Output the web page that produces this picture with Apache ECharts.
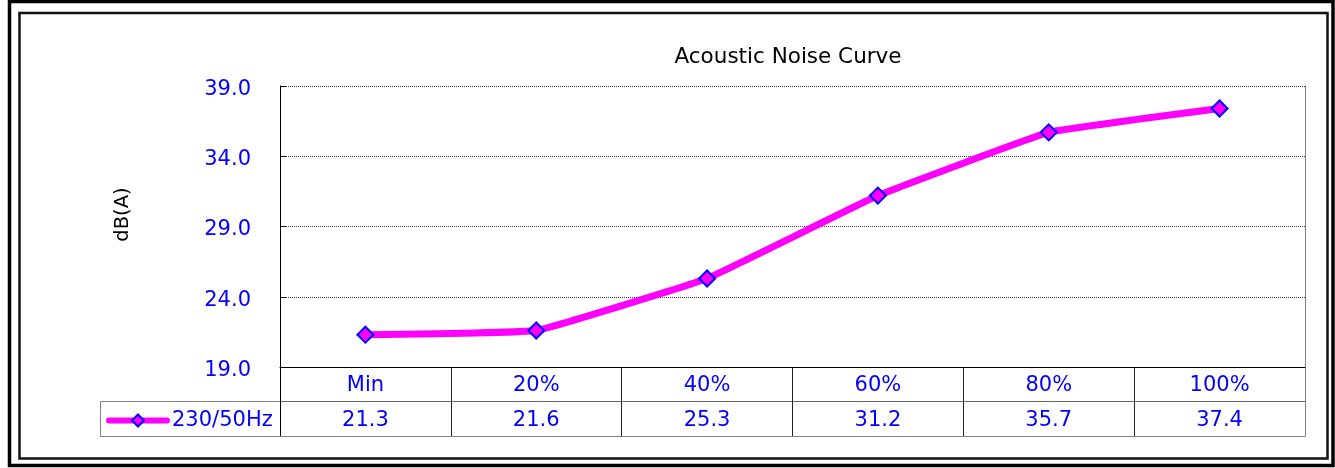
<!DOCTYPE html>
<html>
<head>
<meta charset="utf-8">
<script src="https://cdn.jsdelivr.net/npm/echarts@6/dist/echarts.min.js"></script>
<style>
  html, body { margin: 0; padding: 0; background: #fff; }
  #noise_chart { width: 1335px; height: 468px; }
</style>
</head>
<body>
<div id="noise_chart"></div>
<script>
// data
var categories = ['Min', '20%', '40%', '60%', '80%', '100%'];
var noiseValues = [21.3, 21.6, 25.3, 31.2, 35.7, 37.4];
var seriesName = '230/50Hz';
var yTicks = [19, 24, 29, 34, 39];
var tableRows = ['values', 'names'];

var blue = '#0000FF';
var magenta = '#FF00FF';
var font = 'DejaVu Sans';

var chart = echarts.init(document.getElementById('noise_chart'));

// cells of the data table under the plot
var nameCells = categories.map(function (c) { return [c, 'names', c]; });
var valueCells = categories.map(function (c, i) { return [c, 'values', noiseValues[i].toFixed(1)]; });

var cellSeries = function (data) {
    return {
        type: 'scatter',
        xAxisIndex: 1,
        yAxisIndex: 2,
        symbolSize: 1,
        silent: true,
        itemStyle: { color: 'transparent', opacity: 1 },
        label: {
            show: true,
            position: 'top',
            distance: 0,
            offset: [0, 2],
            align: 'center',
            verticalAlign: 'middle',
            color: blue,
            opacity: 1,
            fontFamily: font,
            fontSize: 21,
            formatter: function (p) { return p.data[2]; }
        },
        data: data
    };
};

var option = {
    animation: false,
    title: {
        text: 'Acoustic Noise Curve',
        left: 783,
        top: 41,
        textAlign: 'center',
        textStyle: { color: '#000', fontFamily: font, fontSize: 21.5, fontWeight: 'normal' }
    },
    legend: {
        data: [{
            name: seriesName,
            lineStyle: { width: 6, cap: 'round', color: magenta }
        }],
        left: 106,
        top: 410,
        padding: 0,
        itemWidth: 58,
        itemHeight: 15,
        itemGap: 4,
        textStyle: { color: blue, fontFamily: font, fontSize: 21 }
    },
    grid: [
        { left: 280, top: 86, width: 1025, height: 281 },
        { left: 280, top: 367, width: 1025, height: 69 }
    ],
    xAxis: [
        {
            type: 'category', gridIndex: 0, data: categories, boundaryGap: true,
            axisLine: { lineStyle: { color: '#000', width: 1 } },
            axisTick: { show: false }, axisLabel: { show: false }
        },
        {
            type: 'category', gridIndex: 1, data: categories, boundaryGap: true,
            axisLine: { lineStyle: { color: '#808080', width: 1 } },
            axisTick: { show: false }, axisLabel: { show: false },
            splitLine: { show: true, lineStyle: { color: '#222', width: 1 } }
        }
    ],
    yAxis: [
        {
            type: 'value', gridIndex: 0,
            min: yTicks[0], max: yTicks[yTicks.length - 1], interval: yTicks[1] - yTicks[0],
            name: 'dB(A)', nameLocation: 'middle', nameGap: 147, nameRotate: 90,
            nameTextStyle: { color: '#000', fontFamily: font, fontSize: 19.5, padding: [0, 0, 0, 24] },
            axisLine: { show: true, lineStyle: { color: '#000', width: 1 } },
            axisTick: { show: true, inside: true, length: 6, lineStyle: { color: '#000' } },
            axisLabel: {
                margin: 29,
                formatter: function (v) { return '{t|' + v.toFixed(1) + '}'; },
                rich: {
                    t: { color: blue, fontFamily: font, fontSize: 21, padding: [7, 0, 0, 0] }
                }
            },
            splitLine: { lineStyle: { color: '#444', type: 'dotted', width: 1 } }
        },
        {
            type: 'value', gridIndex: 0, position: 'right',
            min: yTicks[0], max: yTicks[yTicks.length - 1], interval: yTicks[1] - yTicks[0],
            axisLine: { show: true, lineStyle: { color: '#808080', width: 1 } },
            axisTick: { show: false }, axisLabel: { show: false }, splitLine: { show: false }
        },
        {
            type: 'category', gridIndex: 1, data: tableRows, boundaryGap: true,
            axisLine: { show: true, lineStyle: { color: '#000', width: 1 } },
            axisTick: { show: false }, axisLabel: { show: false },
            splitLine: { show: true, lineStyle: { color: '#666', width: 1 } }
        },
        {
            type: 'category', gridIndex: 1, data: tableRows, boundaryGap: true, position: 'right',
            axisLine: { show: true, lineStyle: { color: '#808080', width: 1 } },
            axisTick: { show: false }, axisLabel: { show: false }, splitLine: { show: false }
        }
    ],
    graphic: [
        { type: 'rect', shape: { x: 9.5, y: 1.5, width: 1323.5, height: 464 },
          style: { fill: 'none', stroke: '#000', lineWidth: 3.5 }, silent: true },
        { type: 'rect', shape: { x: 19.5, y: 13, width: 1308, height: 445.5 },
          style: { fill: 'none', stroke: '#111', lineWidth: 2.5 }, silent: true },
        { type: 'rect', shape: { x: 100.5, y: 401.5, width: 180, height: 35 },
          style: { fill: 'none', stroke: '#808080', lineWidth: 1 }, silent: true }
    ],
    series: [
        {
            name: seriesName,
            type: 'line',
            xAxisIndex: 0,
            yAxisIndex: 0,
            smooth: 0.08,
            symbol: 'diamond',
            symbolSize: 16,
            lineStyle: { color: magenta, width: 7 },
            itemStyle: { color: magenta, borderColor: blue, borderWidth: 2 },
            data: noiseValues
        },
        cellSeries(nameCells),
        cellSeries(valueCells)
    ]
};

chart.setOption(option);
window.addEventListener('resize', chart.resize);
</script>
</body>
</html>
